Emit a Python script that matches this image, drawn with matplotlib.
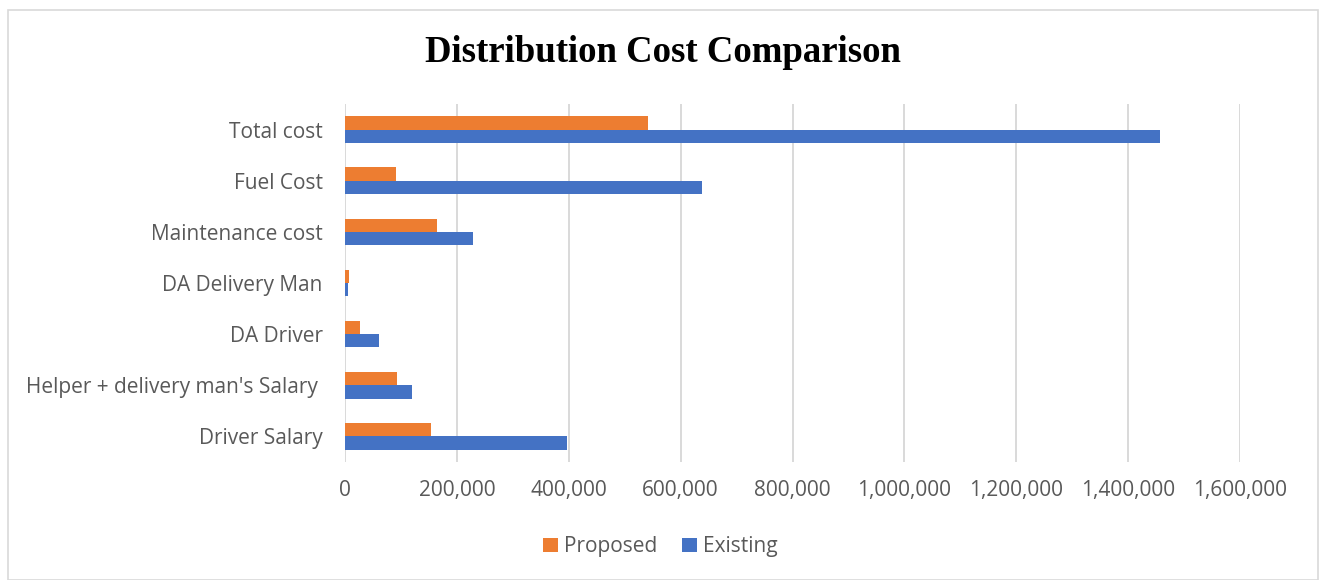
import matplotlib.pyplot as plt
import numpy as np
from matplotlib.patches import Rectangle
from matplotlib.ticker import FuncFormatter

categories = ['Driver Salary', "Helper + delivery man's Salary ", 'DA Driver',
              'DA Delivery Man', 'Maintenance cost', 'Fuel Cost', 'Total cost']
proposed = [154000, 93600, 26800, 7200, 165000, 90700, 540800]
existing = [397000, 120400, 61400, 5400, 229000, 638000, 1456500]

orange = '#ED7D31'
blue = '#4472C4'
txt = '#595959'

fig = plt.figure(figsize=(13.21, 5.8), dpi=100)
ax = fig.add_axes([0.2612, 0.2034, 0.6775, 0.6172])

y = np.arange(len(categories))
h = 0.26
ax.barh(y + h / 2, proposed, height=h, color=orange, label='Proposed')
ax.barh(y - h / 2, existing, height=h, color=blue, label='Existing')

ax.set_xlim(0, 1600000)
ax.set_ylim(-0.5, len(categories) - 0.5)
ax.set_xticks(np.arange(0, 1600001, 200000))
ax.xaxis.set_major_formatter(FuncFormatter(lambda v, p: f'{int(v):,}'))
ax.set_yticks(y)
ax.set_yticklabels(categories)

ax.grid(axis='x', color='#d9d9d9', linewidth=1.4)
ax.set_axisbelow(True)
for s in ax.spines.values():
    s.set_visible(False)
ax.tick_params(axis='both', length=0, labelsize=15, labelcolor=txt)
ax.tick_params(axis='y', pad=16)
ax.tick_params(axis='x', pad=13)
for lab in ax.get_xticklabels() + ax.get_yticklabels():
    lab.set_family('Open Sans')

fig.text(0.502, 0.91, 'Distribution Cost Comparison', ha='center', va='center',
         fontsize=26.5, fontweight='bold', family='Liberation Serif')

handles, labels = ax.get_legend_handles_labels()
fig.legend(handles, labels, loc='center', bbox_to_anchor=(0.5, 0.057), ncol=2,
           frameon=False, handlelength=0.7, handleheight=0.7, handletextpad=0.3,
           columnspacing=1.2, prop={'family': 'Open Sans', 'size': 15},
           labelcolor=txt)

fig.patches.append(Rectangle((8 / 1321, 0), 1310 / 1321, 1 - 10 / 580,
                             transform=fig.transFigure, fill=False,
                             edgecolor='#d9d9d9', linewidth=1.2))

fig.savefig('out.png', dpi=100)
